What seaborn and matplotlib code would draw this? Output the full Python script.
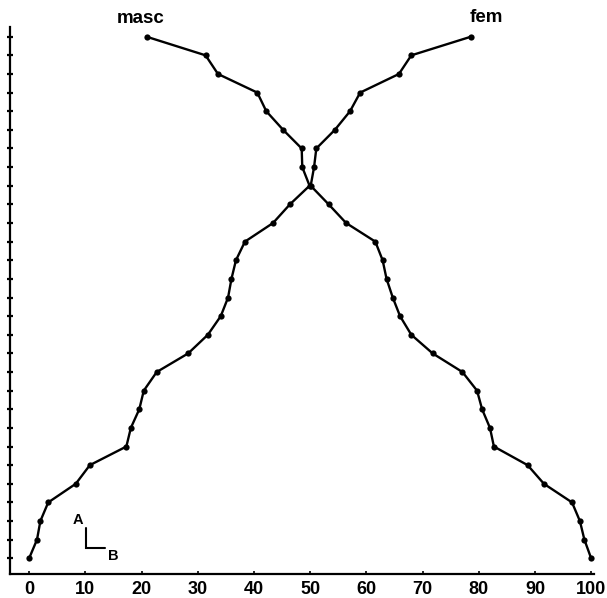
import pandas as pd
import matplotlib.pyplot as plt
import seaborn as sns

sns.set_theme(style="white")
plt.rcParams["font.family"] = ["Liberation Sans", "DejaVu Sans"]
plt.rcParams.update({"text.color": "black", "xtick.color": "black", "ytick.color": "black",
                     "axes.edgecolor": "black"})

# rank levels (bottom = 0, top = 28)
levels = list(range(29))
masc = [0.0, 1.4, 2.0, 3.4, 8.3, 10.8, 17.3, 18.1, 19.6, 20.4, 22.7, 28.3, 31.8, 34.1, 35.4,
        36.0, 36.8, 38.4, 43.4, 46.4, 49.9, 48.6, 48.5, 45.2, 42.2, 40.6, 33.6, 31.4, 20.9]
fem = [100.0, 98.8, 98.0, 96.6, 91.6, 88.7, 82.7, 82.0, 80.6, 79.7, 77.1, 71.8, 68.0, 66.0, 64.7,
       63.6, 62.9, 61.6, 56.4, 53.3, 50.1, 50.7, 51.1, 54.4, 57.1, 58.9, 65.8, 68.0, 78.6]
xticks = [0, 10, 20, 30, 40, 50, 60, 70, 80, 90, 100]

df = pd.concat([
    pd.DataFrame({"level": levels, "pct": masc, "sex": "masc"}),
    pd.DataFrame({"level": levels, "pct": fem, "sex": "fem"}),
])

fig = plt.figure(figsize=(6.07, 5.98), dpi=100)
ax = fig.add_axes([0.0165, 0.0396, 0.962, 0.9152])

sns.lineplot(data=df, x="pct", y="level", hue="sex", palette=["black", "black"],
             sort=False, estimator=None, marker="o", markersize=4.5, markeredgewidth=0,
             linewidth=1.7, legend=False, ax=ax)

ax.set_xlim(-3.4, 100.5)
ax.set_ylim(-0.86, 28.52)
ax.set_xticks(xticks)
ax.set_xticklabels([str(t) for t in xticks], fontsize=13, fontweight="bold")
ax.set_yticks(levels)
ax.set_yticklabels([])
ax.set_xlabel("")
ax.set_ylabel("")
for s in ["top", "right"]:
    ax.spines[s].set_visible(False)
for s in ["left", "bottom"]:
    ax.spines[s].set_linewidth(1.6)
ax.tick_params(axis="y", direction="inout", length=5, width=1.6, left=True)
ax.tick_params(axis="x", direction="in", length=2.5, width=1.2, pad=5, bottom=True)

# series labels above the top points
ax.annotate("masc", (masc[-1], levels[-1]), xytext=(-4, 7), textcoords="offset points",
            ha="center", va="bottom", fontsize=13.5, fontweight="bold")
ax.annotate("fem", (fem[-1], levels[-1]), xytext=(11, 8), textcoords="offset points",
            ha="center", va="bottom", fontsize=13.5, fontweight="bold")

# A / B orientation mark
ax.plot([0.1305, 0.1305, 0.163], [0.0838, 0.0487, 0.0487], transform=ax.transAxes,
        color="black", linewidth=1.5, solid_joinstyle="miter")
ax.text(0.116, 0.1, "A", transform=ax.transAxes, ha="center", va="center",
        fontsize=10.5, fontweight="bold")
ax.text(0.176, 0.0343, "B", transform=ax.transAxes, ha="center", va="center",
        fontsize=10.5, fontweight="bold")

fig.savefig("out.png", dpi=100)
